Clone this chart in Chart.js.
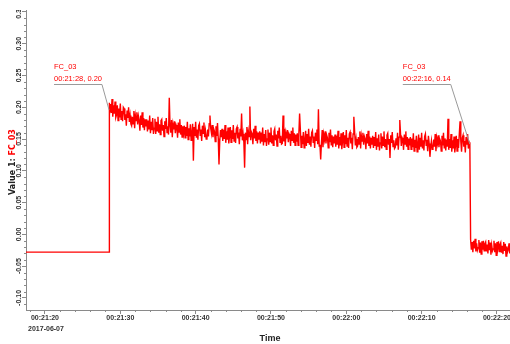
<!DOCTYPE html>
<html>
<head>
<meta charset="utf-8">
<script src="https://cdn.jsdelivr.net/npm/chart.js@4.4.0/dist/chart.umd.min.js"></script>
<style>
  body { margin: 0; background: #fff; }
  canvas { display: block; }
</style>
</head>
<body>
<canvas id="signalChart" width="510" height="344"></canvas>
<script>
// time in seconds after 00:21:00, 2017-06-07
const seriesName = 'FC_03';
const axisDate = '2017-06-07';
const timeMin = 17.48;
const timeMax = 81.73;

// flat level before the step
const baseTimes = [17.48, 28.5];
const baseValues = [-0.028, -0.028];

// high level, sampled every 0.1 s from 28.5 s
const highStart = 28.5;
const highStep = 0.1;
const highValues = [
  0.207, 0.188, 0.205, 0.191, 0.213, 0.185, 0.203, 0.190, 0.209, 0.184,
  0.188, 0.203, 0.179, 0.198, 0.184, 0.206, 0.181, 0.194, 0.178, 0.200,
  0.198, 0.180, 0.189, 0.171, 0.195, 0.183, 0.200, 0.177, 0.187, 0.174,
  0.171, 0.185, 0.174, 0.194, 0.167, 0.187, 0.179, 0.192, 0.173, 0.186,
  0.179, 0.163, 0.187, 0.172, 0.192, 0.168, 0.183, 0.164, 0.181, 0.170,
  0.181, 0.162, 0.179, 0.165, 0.187, 0.159, 0.177, 0.164, 0.183, 0.158,
  0.167, 0.182, 0.158, 0.177, 0.163, 0.185, 0.160, 0.173, 0.157, 0.179,
  0.181, 0.163, 0.172, 0.154, 0.178, 0.166, 0.183, 0.160, 0.170, 0.157,
  0.215, 0.171, 0.160, 0.180, 0.153, 0.173, 0.165, 0.178, 0.159, 0.172,
  0.168, 0.152, 0.176, 0.161, 0.181, 0.157, 0.172, 0.153, 0.170, 0.159,
  0.171, 0.152, 0.169, 0.155, 0.177, 0.149, 0.167, 0.154, 0.173, 0.148,
  0.159, 0.174, 0.116, 0.169, 0.155, 0.177, 0.152, 0.165, 0.149, 0.171,
  0.174, 0.156, 0.165, 0.147, 0.171, 0.159, 0.176, 0.153, 0.163, 0.150,
  0.151, 0.165, 0.154, 0.174, 0.187, 0.167, 0.159, 0.172, 0.153, 0.166,
  0.162, 0.146, 0.170, 0.155, 0.175, 0.151, 0.110, 0.147, 0.164, 0.153,
  0.166, 0.147, 0.164, 0.150, 0.172, 0.144, 0.162, 0.149, 0.168, 0.143,
  0.154, 0.169, 0.145, 0.164, 0.150, 0.172, 0.147, 0.160, 0.144, 0.166,
  0.169, 0.151, 0.160, 0.142, 0.166, 0.154, 0.190, 0.148, 0.158, 0.145,
  0.105, 0.160, 0.149, 0.169, 0.142, 0.162, 0.154, 0.201, 0.148, 0.161,
  0.158, 0.142, 0.166, 0.151, 0.171, 0.147, 0.162, 0.143, 0.160, 0.149,
  0.162, 0.143, 0.160, 0.146, 0.168, 0.140, 0.158, 0.145, 0.164, 0.139,
  0.150, 0.165, 0.141, 0.160, 0.146, 0.168, 0.143, 0.156, 0.140, 0.162,
  0.166, 0.148, 0.157, 0.139, 0.163, 0.151, 0.168, 0.145, 0.155, 0.142,
  0.143, 0.187, 0.146, 0.166, 0.139, 0.159, 0.151, 0.164, 0.145, 0.158,
  0.155, 0.139, 0.163, 0.148, 0.168, 0.144, 0.159, 0.140, 0.157, 0.146,
  0.159, 0.140, 0.157, 0.190, 0.165, 0.137, 0.155, 0.142, 0.161, 0.136,
  0.148, 0.163, 0.139, 0.158, 0.144, 0.166, 0.141, 0.154, 0.138, 0.160,
  0.163, 0.145, 0.154, 0.136, 0.160, 0.148, 0.165, 0.142, 0.197, 0.139,
  0.141, 0.118, 0.144, 0.164, 0.137, 0.157, 0.149, 0.162, 0.143, 0.156,
  0.152, 0.136, 0.160, 0.145, 0.165, 0.141, 0.156, 0.137, 0.154, 0.143,
  0.157, 0.138, 0.155, 0.141, 0.163, 0.135, 0.153, 0.140, 0.159, 0.134,
  0.146, 0.161, 0.137, 0.156, 0.142, 0.164, 0.139, 0.152, 0.136, 0.158,
  0.161, 0.143, 0.152, 0.134, 0.158, 0.185, 0.163, 0.140, 0.150, 0.137,
  0.139, 0.153, 0.142, 0.162, 0.135, 0.155, 0.147, 0.160, 0.141, 0.154,
  0.150, 0.134, 0.158, 0.143, 0.163, 0.139, 0.154, 0.135, 0.152, 0.141,
  0.155, 0.136, 0.153, 0.139, 0.161, 0.133, 0.151, 0.138, 0.157, 0.132,
  0.144, 0.159, 0.135, 0.154, 0.140, 0.162, 0.137, 0.150, 0.134, 0.156,
  0.159, 0.141, 0.150, 0.120, 0.156, 0.144, 0.161, 0.138, 0.148, 0.135,
  0.137, 0.151, 0.140, 0.160, 0.133, 0.153, 0.180, 0.158, 0.139, 0.152,
  0.149, 0.133, 0.157, 0.142, 0.162, 0.138, 0.153, 0.134, 0.151, 0.140,
  0.153, 0.134, 0.151, 0.137, 0.159, 0.131, 0.149, 0.136, 0.155, 0.130,
  0.142, 0.157, 0.133, 0.152, 0.138, 0.160, 0.135, 0.148, 0.132, 0.154,
  0.158, 0.140, 0.149, 0.131, 0.155, 0.143, 0.122, 0.137, 0.147, 0.134,
  0.135, 0.149, 0.138, 0.158, 0.131, 0.151, 0.143, 0.156, 0.137, 0.150,
  0.147, 0.131, 0.155, 0.140, 0.160, 0.136, 0.151, 0.132, 0.149, 0.138,
  0.182, 0.133, 0.150, 0.136, 0.158, 0.130, 0.148, 0.135, 0.154, 0.129,
  0.140, 0.155, 0.131, 0.150, 0.136, 0.158, 0.178, 0.146, 0.130, 0.152,
  0.156, 0.138, 0.147, 0.129, 0.153, 0.141, 0.158, 0.135, 0.145, 0.142
];

// low level after the drop, sampled every 0.1 s from 76.5 s
const lowStart = 76.5;
const lowStep = 0.1;
const lowValues = [
  -0.008, -0.024, -0.012, -0.028, -0.010, -0.022, -0.007, -0.027, -0.014, -0.025,
  -0.021, -0.009, -0.029, -0.013, -0.031, -0.011, -0.024, -0.010, -0.026, -0.015,
  -0.012, -0.027, -0.016, -0.030, -0.009, -0.025, -0.013, -0.032, -0.017, -0.026,
  -0.023, -0.010, -0.028, -0.014, -0.033, -0.012, -0.022, -0.011, -0.027, -0.016,
  -0.013, -0.029, -0.018, -0.031, -0.012, -0.026, -0.015, -0.034, -0.019, -0.028,
  -0.024, -0.014, -0.030, -0.017
];

// callouts
const calloutTimes = [28.5, 76.4];
const calloutValues = [0.196, 0.142];
const calloutTexts = ['00:21:28, 0.20', '00:22:16, 0.14'];
const calloutLabelTimes = [21.2, 67.5];
const calloutLabelValue = 0.237;

const points = [];
baseTimes.forEach((t, i) => points.push({x: t, y: baseValues[i]}));
highValues.forEach((v, i) => points.push({x: highStart + i * highStep, y: v}));
lowValues.forEach((v, i) => points.push({x: lowStart + i * lowStep, y: v}));

function pad2(n) { return (n < 10 ? '0' : '') + n; }
function timeLabel(sec) {
    const total = 21 * 60 + Math.round(sec);
    return '00:' + pad2(Math.floor(total / 60)) + ':' + pad2(total % 60);
}

const narrow = "'Liberation Sans Narrow', 'Liberation Sans', sans-serif";
const axisColor = '#8a8a8a';

const decorPlugin = {
    id: 'decor',
    afterDraw(chart) {
        const ctx = chart.ctx;
        const xs = chart.scales.x;
        const ys = chart.scales.y;
        const area = chart.chartArea;

        ctx.save();
        // minor ticks
        ctx.strokeStyle = axisColor;
        ctx.lineWidth = 1;
        ctx.beginPath();
        for (let t = 18; t <= 81; t += 2) {
            if (t % 10 === 0) continue;
            const px = Math.round(xs.getPixelForValue(t)) + 0.5;
            ctx.moveTo(px, area.bottom);
            ctx.lineTo(px, area.bottom + 2);
        }
        for (let k = -11; k <= 35; k++) {
            if (k % 5 === 0) continue;
            const py = Math.round(ys.getPixelForValue(k / 100)) + 0.5;
            ctx.moveTo(area.left - 2, py);
            ctx.lineTo(area.left, py);
        }
        ctx.stroke();

        // x tick labels
        ctx.fillStyle = '#333';
        ctx.font = 'bold 7px ' + narrow;
        ctx.textAlign = 'center';
        ctx.textBaseline = 'middle';
        xs.ticks.forEach((tk, i) => {
            const px = xs.getPixelForValue(tk.value);
            ctx.fillText(timeLabel(tk.value), px, 318);
            if (i === 0) ctx.fillText(axisDate, px + 1, 329);
        });

        // y tick labels, rotated
        ctx.save();
        ctx.beginPath();
        ctx.rect(0, area.top, area.left, area.bottom - area.top + 20);
        ctx.clip();
        ys.ticks.forEach(tk => {
            const py = ys.getPixelForValue(tk.value);
            ctx.save();
            ctx.translate(19.5, py);
            ctx.rotate(-Math.PI / 2);
            ctx.fillText(tk.value.toFixed(2), 0, 0);
            ctx.restore();
        });
        ctx.restore();

        // x title
        ctx.fillStyle = '#222';
        ctx.font = 'bold 9px ' + narrow;
        ctx.fillText('Time', (area.left + area.right) / 2 + 2, 339);

        // y title, two colours
        ctx.font = 'bold 8px "DejaVu Sans", sans-serif';
        const part1 = 'Value 1: ';
        const w1 = ctx.measureText(part1).width;
        const w2 = ctx.measureText(seriesName).width;
        ctx.save();
        ctx.translate(12.5, 162 + (w1 + w2) / 2);
        ctx.rotate(-Math.PI / 2);
        ctx.textAlign = 'left';
        ctx.fillStyle = '#222';
        ctx.fillText(part1, 0, 0);
        ctx.fillStyle = '#ff0000';
        ctx.fillText(seriesName, w1, 0);
        ctx.restore();

        // callouts
        ctx.font = '7.5px "Liberation Sans", sans-serif';
        ctx.textAlign = 'left';
        ctx.textBaseline = 'alphabetic';
        calloutTimes.forEach((t, i) => {
            const lx = xs.getPixelForValue(calloutLabelTimes[i]);
            const ly = ys.getPixelForValue(calloutLabelValue);
            const tx = xs.getPixelForValue(t);
            const ty = ys.getPixelForValue(calloutValues[i]);
            ctx.fillStyle = '#ff0000';
            ctx.fillText(seriesName, lx, ly - 15);
            ctx.fillText(calloutTexts[i], lx, ly - 3);
            const w = ctx.measureText(calloutTexts[i]).width;
            ctx.strokeStyle = '#9a9a9a';
            ctx.lineWidth = 1;
            ctx.beginPath();
            ctx.moveTo(lx, Math.round(ly) + 0.5);
            ctx.lineTo(lx + w, Math.round(ly) + 0.5);
            ctx.lineTo(tx, ty);
            ctx.stroke();
        });
        ctx.restore();
    }
};

const ctx = document.getElementById('signalChart').getContext('2d');

const chart = new Chart(ctx, {
    type: 'line',
    data: {
        datasets: [{
            label: seriesName,
            data: points,
            borderColor: 'rgb(255, 0, 0)',
            borderWidth: 1.4,
            pointRadius: 0,
            fill: false,
            tension: 0
        }]
    },
    options: {
        responsive: false,
        animation: false,
        devicePixelRatio: 1,
        layout: { padding: { top: 10, right: 0, left: 0, bottom: 0 } },
        plugins: {
            legend: { display: false },
            tooltip: { enabled: false }
        },
        scales: {
            x: {
                type: 'linear',
                min: timeMin,
                max: timeMax,
                ticks: { display: false, stepSize: 10, includeBounds: false },
                grid: { drawOnChartArea: false, drawTicks: true, tickLength: 4, color: axisColor },
                border: { display: true, color: axisColor },
                afterFit: function(scale) { scale.height = 34; }
            },
            y: {
                min: -0.119,
                max: 0.353,
                ticks: { display: false, stepSize: 0.05, includeBounds: false },
                grid: { drawOnChartArea: false, drawTicks: true, tickLength: 4, color: axisColor },
                border: { display: true, color: axisColor },
                afterFit: function(scale) { scale.width = 26; }
            }
        }
    },
    plugins: [decorPlugin]
});
</script>
</body>
</html>
